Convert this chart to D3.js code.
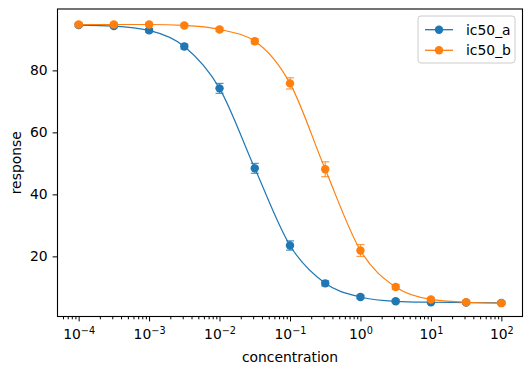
<!DOCTYPE html>
<html>
<head>
<meta charset="utf-8">
<script src="https://cdn.jsdelivr.net/npm/d3@7"></script>
<style>
    body { margin: 0; background: #fff; }
    #chart-container { width: 531px; height: 375px; }
    text { font-family: 'DejaVu Sans', sans-serif; fill: #000; }
    .dose-axis path { display: none; }
    .dose-axis line { stroke: #000; stroke-width: 1; }
</style>
</head>
<body>
<div id="chart-container"></div>
<script>
//data
var concentrations = [1e-4, 3.162e-4, 1e-3, 3.162e-3, 1e-2, 3.162e-2, 1e-1, 3.162e-1, 1, 3.162, 10, 31.62, 100];

var ic50aValues = [94.6, 94.3, 92.9, 87.7, 74.2, 48.4, 23.5, 11.3, 6.9, 5.5, 5.2, 5.1, 5.0],
    ic50aErrors = [0.5, 0.5, 0.6, 0.8, 1.6, 1.6, 1.5, 0.8, 0.6, 0.5, 0.5, 0.5, 0.5];

var ic50bValues = [94.8, 94.8, 94.8, 94.5, 93.2, 89.4, 75.8, 48.1, 21.9, 10.1, 6.1, 5.2, 4.9],
    ic50bErrors = [0.5, 0.5, 0.5, 0.5, 0.6, 0.8, 1.8, 2.4, 1.9, 0.8, 0.6, 0.5, 0.5];

var seriesNames = ['ic50_a', 'ic50_b'],
    seriesColors = ['#1f77b4', '#ff7f0e'];

var xTickValues = [1e-4, 1e-3, 1e-2, 1e-1, 1, 10, 100],
    yTickValues = [20, 40, 60, 80];

var xDomain = [Math.pow(10, -4.3), Math.pow(10, 2.3)],
    yDomain = [0.6, 99.8];

//containers
var chartContainer = d3.select('#chart-container'),
    chartSvg;

//scales
var doseXScale,
    doseYScale;

//sizes
var plotLeft = 57.5,
    plotRight = 522.5,
    plotTop = 9,
    plotBottom = 316.5;

var superscripts = {'-': '\u2212'};

function buildSeries(values, errors, color) {
    var points = concentrations.map(function(c, i) {
        return {x: c, y: values[i], err: errors[i]};
    });

    var line = d3.line()
        .x(function(d) { return doseXScale(d.x); })
        .y(function(d) { return doseYScale(d.y); })
        .curve(d3.curveMonotoneX);

    chartSvg.append('path')
        .datum(points)
        .attr('d', line)
        .attr('fill', 'none')
        .attr('stroke', color)
        .attr('stroke-width', 1.2);

    var errG = chartSvg.append('g')
        .attr('stroke', color)
        .attr('stroke-width', 1.1)
        .attr('opacity', 0.85);

    points.forEach(function(d) {
        var cx = doseXScale(d.x),
            y0 = doseYScale(d.y - d.err),
            y1 = doseYScale(d.y + d.err);
        errG.append('line').attr('x1', cx).attr('x2', cx).attr('y1', y0).attr('y2', y1);
        errG.append('line').attr('x1', cx - 4).attr('x2', cx + 4).attr('y1', y0).attr('y2', y0);
        errG.append('line').attr('x1', cx - 4).attr('x2', cx + 4).attr('y1', y1).attr('y2', y1);
    });

    chartSvg.append('g').selectAll('circle')
        .data(points)
        .enter()
        .append('circle')
        .attr('cx', function(d) { return doseXScale(d.x); })
        .attr('cy', function(d) { return doseYScale(d.y); })
        .attr('r', 4.2)
        .attr('fill', color);
}

function buildChart() {
    chartSvg = chartContainer.append('svg')
        .attr('width', 531)
        .attr('height', 375);

    // minor ticks on the log axis
    var minorTicks = [];
    for (var e = -5; e <= 2; e++) {
        for (var m = 2; m <= 9; m++) {
            var v = m * Math.pow(10, e);
            if (v >= xDomain[0] && v <= xDomain[1]) minorTicks.push(v);
        }
    }

    var xMinorAxis = d3.axisBottom(doseXScale)
        .tickValues(minorTicks)
        .tickSize(2.8)
        .tickFormat('');

    chartSvg.append('g')
        .attr('class', 'dose-axis')
        .attr('transform', 'translate(0,' + plotBottom + ')')
        .attr('stroke-width', 0.8)
        .call(xMinorAxis);

    var xAxis = d3.axisBottom(doseXScale)
        .tickValues(xTickValues)
        .tickSize(4.9)
        .tickPadding(6)
        .tickFormat('');

    var xAxisG = chartSvg.append('g')
        .attr('class', 'dose-axis')
        .attr('transform', 'translate(0,' + plotBottom + ')')
        .call(xAxis);

    xAxisG.selectAll('.tick').each(function(d) {
        var exp = Math.round(Math.log10(d)).toString().replace('-', '\u2212');
        var t = d3.select(this).append('text')
            .attr('y', 22)
            .attr('text-anchor', 'middle')
            .attr('font-size', '13.9px');
        t.append('tspan').text('10');
        t.append('tspan')
            .attr('dy', '-0.45em')
            .attr('font-size', '9.7px')
            .text(exp);
    });

    var yAxis = d3.axisLeft(doseYScale)
        .tickValues(yTickValues)
        .tickSize(4.9)
        .tickPadding(4.9);

    chartSvg.append('g')
        .attr('class', 'dose-axis')
        .attr('transform', 'translate(' + plotLeft + ',0)')
        .call(yAxis)
        .selectAll('text')
        .attr('font-size', '13.9px')
        .attr('font-family', 'DejaVu Sans, sans-serif');

    buildSeries(ic50aValues, ic50aErrors, seriesColors[0]);
    buildSeries(ic50bValues, ic50bErrors, seriesColors[1]);

    // frame
    chartSvg.append('rect')
        .attr('x', plotLeft)
        .attr('y', plotTop)
        .attr('width', plotRight - plotLeft)
        .attr('height', plotBottom - plotTop)
        .attr('fill', 'none')
        .attr('stroke', '#000')
        .attr('stroke-width', 1.1);

    // axis labels
    chartSvg.append('text')
        .attr('x', (plotLeft + plotRight) / 2)
        .attr('y', 362)
        .attr('text-anchor', 'middle')
        .attr('font-size', '13.9px')
        .text('concentration');

    chartSvg.append('text')
        .attr('transform', 'translate(21,' + (plotTop + plotBottom) / 2 + ') rotate(-90)')
        .attr('text-anchor', 'middle')
        .attr('font-size', '13.9px')
        .text('response');

    // legend
    var legendG = chartSvg.append('g')
        .attr('transform', 'translate(418,16)');

    legendG.append('rect')
        .attr('width', 97)
        .attr('height', 47)
        .attr('rx', 3)
        .attr('fill', '#fff')
        .attr('fill-opacity', 0.8)
        .attr('stroke', '#cccccc')
        .attr('stroke-width', 1);

    seriesNames.forEach(function(name, i) {
        var rowY = 13.7 + i * 20.6;
        legendG.append('line')
            .attr('x1', 7).attr('x2', 35)
            .attr('y1', rowY).attr('y2', rowY)
            .attr('stroke', seriesColors[i])
            .attr('stroke-width', 1.3);
        legendG.append('circle')
            .attr('cx', 21).attr('cy', rowY)
            .attr('r', 4.2)
            .attr('fill', seriesColors[i]);
        legendG.append('text')
            .attr('x', 48)
            .attr('y', rowY)
            .attr('dy', '0.36em')
            .attr('font-size', '13.9px')
            .text(name);
    });
}

function setupChart() {
    doseXScale = d3.scaleLog().domain(xDomain).range([plotLeft, plotRight]);
    doseYScale = d3.scaleLinear().domain(yDomain).range([plotBottom, plotTop]);

    buildChart();
}

setupChart();
</script>
</body>
</html>
